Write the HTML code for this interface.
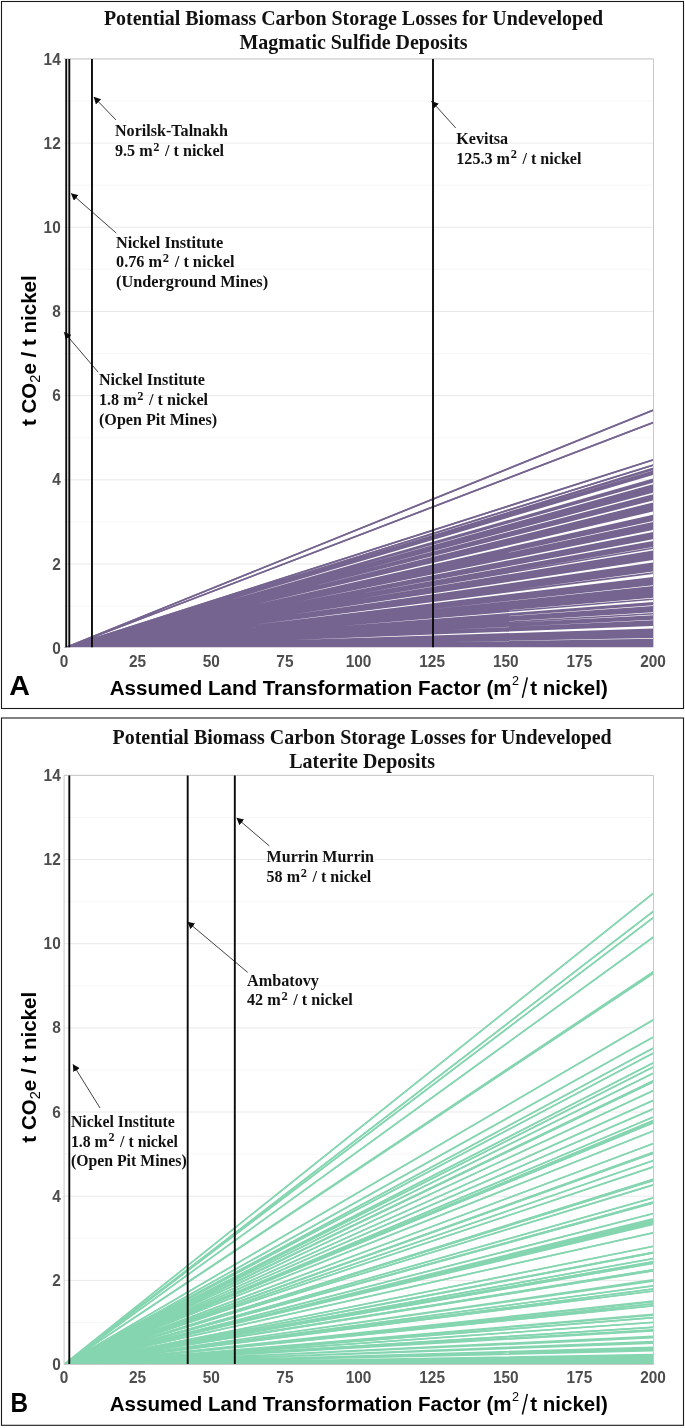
<!DOCTYPE html>
<html><head><meta charset="utf-8"><title>Biomass carbon storage losses</title>
<style>
html,body{margin:0;padding:0;background:#fff;}
svg{display:block;will-change:transform;}
text{font-family:"Liberation Sans",sans-serif;}
.tk{font-size:15.4px;font-weight:bold;fill:#4d4d4d;}
.ti{font-family:"Liberation Serif",serif;font-size:19.95px;font-weight:bold;fill:#111;}
.ax{font-size:20.55px;font-weight:bold;fill:#000;}
.axs{font-size:12.6px;font-weight:normal;fill:#000;}
.ax .sub{font-size:14.6px;font-weight:normal;}
.ax .sl{font-size:26px;font-weight:normal;}
.lt{font-size:27px;font-weight:bold;fill:#000;}
.an{font-family:"Liberation Serif",serif;font-size:16.05px;font-weight:bold;fill:#111;}
.an .s2{font-size:0.77em;}
</style></head><body>
<svg width="685" height="1428" viewBox="0 0 685 1428">
<defs><marker id="ah" viewBox="0 0 10 10" refX="9.6" refY="5" markerWidth="7" markerHeight="7.4" markerUnits="userSpaceOnUse" orient="auto" preserveAspectRatio="none"><path d="M0 0L10 5L0 10z" fill="#0a0a0a"/></marker></defs>
<rect width="685" height="1428" fill="#fff"/>
<rect x="1.5" y="1.5" width="682" height="707.0" fill="none" stroke="#1a1a1a" stroke-width="1.1"/>
<line x1="64.0" x2="653.0" y1="606.11" y2="606.11" stroke="#f3f3f3" stroke-width="0.7"/>
<line x1="64.0" x2="653.0" y1="564.01" y2="564.01" stroke="#e9e9e9" stroke-width="1"/>
<line x1="64.0" x2="653.0" y1="521.92" y2="521.92" stroke="#f3f3f3" stroke-width="0.7"/>
<line x1="64.0" x2="653.0" y1="479.83" y2="479.83" stroke="#e9e9e9" stroke-width="1"/>
<line x1="64.0" x2="653.0" y1="437.74" y2="437.74" stroke="#f3f3f3" stroke-width="0.7"/>
<line x1="64.0" x2="653.0" y1="395.64" y2="395.64" stroke="#e9e9e9" stroke-width="1"/>
<line x1="64.0" x2="653.0" y1="353.55" y2="353.55" stroke="#f3f3f3" stroke-width="0.7"/>
<line x1="64.0" x2="653.0" y1="311.46" y2="311.46" stroke="#e9e9e9" stroke-width="1"/>
<line x1="64.0" x2="653.0" y1="269.36" y2="269.36" stroke="#f3f3f3" stroke-width="0.7"/>
<line x1="64.0" x2="653.0" y1="227.27" y2="227.27" stroke="#e9e9e9" stroke-width="1"/>
<line x1="64.0" x2="653.0" y1="185.18" y2="185.18" stroke="#f3f3f3" stroke-width="0.7"/>
<line x1="64.0" x2="653.0" y1="143.09" y2="143.09" stroke="#e9e9e9" stroke-width="1"/>
<line x1="64.0" x2="653.0" y1="100.99" y2="100.99" stroke="#f3f3f3" stroke-width="0.7"/>
<line x1="64.0" x2="653.0" y1="58.90" y2="58.90" stroke="#e9e9e9" stroke-width="1"/>
<clipPath id="cA"><rect x="63.7" y="58.9" width="589.3" height="588.4"/></clipPath>
<path clip-path="url(#cA)" d="M64.0 648.2L657.0 408.58M64.0 648.2L657.0 421.07M64.0 648.2L657.0 458.62M64.0 648.2L657.0 463.96M64.0 648.2L657.0 467.10M64.0 648.2L657.0 467.66M64.0 648.2L657.0 468.21M64.0 648.2L657.0 470.12M64.0 648.2L657.0 470.87M64.0 648.2L657.0 471.61M64.0 648.2L657.0 472.35M64.0 648.2L657.0 473.09M64.0 648.2L657.0 478.18M64.0 648.2L657.0 478.82M64.0 648.2L657.0 479.46M64.0 648.2L657.0 480.10M64.0 648.2L657.0 480.75M64.0 648.2L657.0 483.82M64.0 648.2L657.0 484.60M64.0 648.2L657.0 485.39M64.0 648.2L657.0 486.18M64.0 648.2L657.0 486.97M64.0 648.2L657.0 487.76M64.0 648.2L657.0 488.55M64.0 648.2L657.0 489.34M64.0 648.2L657.0 490.13M64.0 648.2L657.0 490.91M64.0 648.2L657.0 493.98M64.0 648.2L657.0 494.68M64.0 648.2L657.0 495.38M64.0 648.2L657.0 496.08M64.0 648.2L657.0 496.78M64.0 648.2L657.0 497.47M64.0 648.2L657.0 498.17M64.0 648.2L657.0 498.87M64.0 648.2L657.0 502.24M64.0 648.2L657.0 503.01M64.0 648.2L657.0 503.78M64.0 648.2L657.0 504.55M64.0 648.2L657.0 505.32M64.0 648.2L657.0 506.09M64.0 648.2L657.0 506.86M64.0 648.2L657.0 507.63M64.0 648.2L657.0 508.40M64.0 648.2L657.0 509.17M64.0 648.2L657.0 509.94M64.0 648.2L657.0 514.52M64.0 648.2L657.0 515.24M64.0 648.2L657.0 515.95M64.0 648.2L657.0 516.66M64.0 648.2L657.0 517.37M64.0 648.2L657.0 518.08M64.0 648.2L657.0 518.79M64.0 648.2L657.0 519.51M64.0 648.2L657.0 521.77M64.0 648.2L657.0 522.50M64.0 648.2L657.0 523.24M64.0 648.2L657.0 523.97M64.0 648.2L657.0 524.70M64.0 648.2L657.0 525.44M64.0 648.2L657.0 526.17M64.0 648.2L657.0 526.90M64.0 648.2L657.0 527.63M64.0 648.2L657.0 528.37M64.0 648.2L657.0 532.04M64.0 648.2L657.0 532.77M64.0 648.2L657.0 533.49M64.0 648.2L657.0 534.21M64.0 648.2L657.0 534.94M64.0 648.2L657.0 535.66M64.0 648.2L657.0 536.38M64.0 648.2L657.0 537.11M64.0 648.2L657.0 537.83M64.0 648.2L657.0 540.90M64.0 648.2L657.0 541.66M64.0 648.2L657.0 542.43M64.0 648.2L657.0 543.19M64.0 648.2L657.0 543.96M64.0 648.2L657.0 544.72M64.0 648.2L657.0 545.48M64.0 648.2L657.0 547.55M64.0 648.2L657.0 547.60M64.0 648.2L657.0 550.67M64.0 648.2L657.0 551.40M64.0 648.2L657.0 552.14M64.0 648.2L657.0 552.88M64.0 648.2L657.0 553.61M64.0 648.2L657.0 554.35M64.0 648.2L657.0 555.09M64.0 648.2L657.0 555.82M64.0 648.2L657.0 556.56M64.0 648.2L657.0 557.30M64.0 648.2L657.0 558.03M64.0 648.2L657.0 558.77M64.0 648.2L657.0 562.75M64.0 648.2L657.0 563.51M64.0 648.2L657.0 564.27M64.0 648.2L657.0 565.03M64.0 648.2L657.0 565.79M64.0 648.2L657.0 566.55M64.0 648.2L657.0 567.31M64.0 648.2L657.0 568.07M64.0 648.2L657.0 568.83M64.0 648.2L657.0 569.59M64.0 648.2L657.0 570.35M64.0 648.2L657.0 572.51M64.0 648.2L657.0 572.77M64.0 648.2L657.0 577.25M64.0 648.2L657.0 578.00M64.0 648.2L657.0 578.76M64.0 648.2L657.0 579.51M64.0 648.2L657.0 580.27M64.0 648.2L657.0 581.02M64.0 648.2L657.0 581.78M64.0 648.2L657.0 582.53M64.0 648.2L657.0 583.29M64.0 648.2L657.0 584.04M64.0 648.2L657.0 586.31M64.0 648.2L657.0 587.10M64.0 648.2L657.0 587.90M64.0 648.2L657.0 588.69M64.0 648.2L657.0 589.48M64.0 648.2L657.0 590.28M64.0 648.2L657.0 591.07M64.0 648.2L657.0 591.86M64.0 648.2L657.0 592.66M64.0 648.2L657.0 593.45M64.0 648.2L657.0 594.25M64.0 648.2L657.0 595.04M64.0 648.2L657.0 595.83M64.0 648.2L657.0 596.63M64.0 648.2L657.0 598.79M64.0 648.2L657.0 599.04M64.0 648.2L657.0 602.42M64.0 648.2L657.0 603.05M64.0 648.2L657.0 603.69M64.0 648.2L657.0 604.33M64.0 648.2L657.0 606.39M64.0 648.2L657.0 607.10M64.0 648.2L657.0 607.82M64.0 648.2L657.0 608.53M64.0 648.2L657.0 609.24M64.0 648.2L657.0 609.95M64.0 648.2L657.0 610.66M64.0 648.2L657.0 611.38M64.0 648.2L657.0 613.44M64.0 648.2L657.0 613.59M64.0 648.2L657.0 615.66M64.0 648.2L657.0 616.44M64.0 648.2L657.0 617.22M64.0 648.2L657.0 618.00M64.0 648.2L657.0 618.78M64.0 648.2L657.0 620.84M64.0 648.2L657.0 621.54M64.0 648.2L657.0 622.23M64.0 648.2L657.0 622.93M64.0 648.2L657.0 623.63M64.0 648.2L657.0 624.32M64.0 648.2L657.0 625.02M64.0 648.2L657.0 629.10M64.0 648.2L657.0 629.84M64.0 648.2L657.0 630.59M64.0 648.2L657.0 631.33M64.0 648.2L657.0 632.08M64.0 648.2L657.0 632.83M64.0 648.2L657.0 633.57M64.0 648.2L657.0 634.32M64.0 648.2L657.0 635.06M64.0 648.2L657.0 635.81M64.0 648.2L657.0 636.56M64.0 648.2L657.0 637.30M64.0 648.2L657.0 639.47M64.0 648.2L657.0 640.24M64.0 648.2L657.0 641.01M64.0 648.2L657.0 641.78M64.0 648.2L657.0 642.55M64.0 648.2L657.0 643.32M64.0 648.2L657.0 644.09M64.0 648.2L657.0 644.86M64.0 648.2L657.0 645.63M64.0 648.2L657.0 646.40M64.0 648.2L657.0 647.17" stroke="#766490" stroke-width="1.45" fill="none"/>
<path clip-path="url(#cA)" d="M64.0 648.2L657.0 408.58M64.0 648.2L657.0 421.07M64.0 648.2L657.0 458.62M64.0 648.2L657.0 463.96" stroke="#766490" stroke-width="1.75" fill="none"/>
<path d="M64.0 58.9H653.5V647.3" fill="none" stroke="#c9c9c9" stroke-width="1"/>
<line x1="66.24" x2="66.24" y1="58.9" y2="647.3" stroke="#0a0a0a" stroke-width="1.9"/>
<line x1="69.30" x2="69.30" y1="58.9" y2="647.3" stroke="#0a0a0a" stroke-width="1.9"/>
<line x1="91.98" x2="91.98" y1="58.9" y2="647.3" stroke="#0a0a0a" stroke-width="1.9"/>
<line x1="433.01" x2="433.01" y1="58.9" y2="647.3" stroke="#0a0a0a" stroke-width="1.9"/>
<text class="tk" transform="translate(60.7,653.80) scale(1,1.07)" text-anchor="end">0</text>
<text class="tk" transform="translate(60.7,569.61) scale(1,1.07)" text-anchor="end">2</text>
<text class="tk" transform="translate(60.7,485.43) scale(1,1.07)" text-anchor="end">4</text>
<text class="tk" transform="translate(60.7,401.24) scale(1,1.07)" text-anchor="end">6</text>
<text class="tk" transform="translate(60.7,317.06) scale(1,1.07)" text-anchor="end">8</text>
<text class="tk" transform="translate(60.7,232.87) scale(1,1.07)" text-anchor="end">10</text>
<text class="tk" transform="translate(60.7,148.69) scale(1,1.07)" text-anchor="end">12</text>
<text class="tk" transform="translate(60.7,64.50) scale(1,1.07)" text-anchor="end">14</text>
<text class="tk" transform="translate(64.00,666.85) scale(1,1.07)" text-anchor="middle">0</text>
<text class="tk" transform="translate(137.62,666.85) scale(1,1.07)" text-anchor="middle">25</text>
<text class="tk" transform="translate(211.25,666.85) scale(1,1.07)" text-anchor="middle">50</text>
<text class="tk" transform="translate(284.88,666.85) scale(1,1.07)" text-anchor="middle">75</text>
<text class="tk" transform="translate(358.50,666.85) scale(1,1.07)" text-anchor="middle">100</text>
<text class="tk" transform="translate(432.12,666.85) scale(1,1.07)" text-anchor="middle">125</text>
<text class="tk" transform="translate(505.75,666.85) scale(1,1.07)" text-anchor="middle">150</text>
<text class="tk" transform="translate(579.38,666.85) scale(1,1.07)" text-anchor="middle">175</text>
<text class="tk" transform="translate(653.00,666.85) scale(1,1.07)" text-anchor="middle">200</text>
<text class="ti" x="353.5" y="24.8" text-anchor="middle">Potential Biomass Carbon Storage Losses for Undeveloped</text>
<text class="ti" x="353.5" y="48.9" text-anchor="middle">Magmatic Sulfide Deposits</text>
<text class="ax" x="511.6" y="694.5" text-anchor="end">Assumed Land Transformation Factor (m</text>
<text class="axs" x="511.9" y="684.6">2</text>
<line x1="522.4" y1="697.9" x2="527.3" y2="677.3" stroke="#000" stroke-width="1.5"/>
<text class="ax" x="530.2" y="694.5">t nickel)</text>
<text class="ax" transform="translate(36.4,350.7) rotate(-90)" text-anchor="middle">t CO<tspan class="sub" dy="3.4">2</tspan><tspan dy="-3.4">e / t nickel</tspan></text>
<text class="lt" transform="translate(9.3,695.3) scale(1.06,1.02)">A</text>
<line x1="116" y1="120" x2="93.9" y2="97.0" stroke="#111" stroke-width="0.8" marker-end="url(#ah)"/>
<text class="an" style="font-size:16.1px" x="115" y="136.0">Norilsk-Talnakh</text>
<text class="an" style="font-size:16.1px" x="115" y="155.8">9.5 m<tspan class="s2" dx="0.7" dy="-5.3">2</tspan><tspan dx="1.6" dy="5.3"> </tspan>/ t nickel</text>
<line x1="116.2" y1="233" x2="71.2" y2="193.5" stroke="#111" stroke-width="0.8" marker-end="url(#ah)"/>
<text class="an" style="font-size:16.3px" x="116" y="247.5">Nickel Institute</text>
<text class="an" style="font-size:16.3px" x="116" y="267.3">0.76 m<tspan class="s2" dx="0.7" dy="-5.3">2</tspan><tspan dx="1.6" dy="5.3"> </tspan>/ t nickel</text>
<text class="an" style="font-size:16.3px" x="116" y="287.1">(Underground Mines)</text>
<line x1="98.2" y1="372.2" x2="64.2" y2="332.3" stroke="#111" stroke-width="0.8" marker-end="url(#ah)"/>
<text class="an" style="font-size:16.1px" x="99" y="385.0">Nickel Institute</text>
<text class="an" style="font-size:16.1px" x="99" y="404.8">1.8 m<tspan class="s2" dx="0.7" dy="-5.3">2</tspan><tspan dx="1.6" dy="5.3"> </tspan>/ t nickel</text>
<text class="an" style="font-size:16.1px" x="99" y="424.6">(Open Pit Mines)</text>
<line x1="455.7" y1="127.9" x2="431.6" y2="101.2" stroke="#111" stroke-width="0.8" marker-end="url(#ah)"/>
<text class="an" style="font-size:16.1px" x="456.3" y="143.6">Kevitsa</text>
<text class="an" style="font-size:16.1px" x="456.3" y="163.7">125.3 m<tspan class="s2" dx="0.7" dy="-5.3">2</tspan><tspan dx="1.6" dy="5.3"> </tspan>/ t nickel</text>
<rect x="1.5" y="718" width="682" height="707.3" fill="none" stroke="#1a1a1a" stroke-width="1.1"/>
<line x1="64.0" x2="653.0" y1="1364.50" y2="1364.50" stroke="#e9e9e9" stroke-width="1"/>
<line x1="64.0" x2="653.0" y1="1322.42" y2="1322.42" stroke="#f3f3f3" stroke-width="0.7"/>
<line x1="64.0" x2="653.0" y1="1280.34" y2="1280.34" stroke="#e9e9e9" stroke-width="1"/>
<line x1="64.0" x2="653.0" y1="1238.26" y2="1238.26" stroke="#f3f3f3" stroke-width="0.7"/>
<line x1="64.0" x2="653.0" y1="1196.19" y2="1196.19" stroke="#e9e9e9" stroke-width="1"/>
<line x1="64.0" x2="653.0" y1="1154.11" y2="1154.11" stroke="#f3f3f3" stroke-width="0.7"/>
<line x1="64.0" x2="653.0" y1="1112.03" y2="1112.03" stroke="#e9e9e9" stroke-width="1"/>
<line x1="64.0" x2="653.0" y1="1069.95" y2="1069.95" stroke="#f3f3f3" stroke-width="0.7"/>
<line x1="64.0" x2="653.0" y1="1027.87" y2="1027.87" stroke="#e9e9e9" stroke-width="1"/>
<line x1="64.0" x2="653.0" y1="985.79" y2="985.79" stroke="#f3f3f3" stroke-width="0.7"/>
<line x1="64.0" x2="653.0" y1="943.71" y2="943.71" stroke="#e9e9e9" stroke-width="1"/>
<line x1="64.0" x2="653.0" y1="901.64" y2="901.64" stroke="#f3f3f3" stroke-width="0.7"/>
<line x1="64.0" x2="653.0" y1="859.56" y2="859.56" stroke="#e9e9e9" stroke-width="1"/>
<line x1="64.0" x2="653.0" y1="817.48" y2="817.48" stroke="#f3f3f3" stroke-width="0.7"/>
<line x1="64.0" x2="653.0" y1="775.40" y2="775.40" stroke="#e9e9e9" stroke-width="1"/>
<clipPath id="cB"><rect x="63.7" y="775.4" width="589.3" height="588.5000000000001"/></clipPath>
<path clip-path="url(#cB)" d="M64.0 1364.5L657.0 890.30M64.0 1364.5L657.0 908.52M64.0 1364.5L657.0 914.87M64.0 1364.5L657.0 934.50M64.0 1364.5L657.0 969.44M64.0 1364.5L657.0 970.95M64.0 1364.5L657.0 1017.76M64.0 1364.5L657.0 1034.98M64.0 1364.5L657.0 1046.05M64.0 1364.5L657.0 1051.09M64.0 1364.5L657.0 1060.95M64.0 1364.5L657.0 1065.08M64.0 1364.5L657.0 1071.42M64.0 1364.5L657.0 1079.07M64.0 1364.5L657.0 1080.18M64.0 1364.5L657.0 1088.84M64.0 1364.5L657.0 1098.71M64.0 1364.5L657.0 1107.26M64.0 1364.5L657.0 1115.52M64.0 1364.5L657.0 1119.04M64.0 1364.5L657.0 1120.05M64.0 1364.5L657.0 1121.26M64.0 1364.5L657.0 1129.51M64.0 1364.5L657.0 1142.20M64.0 1364.5L657.0 1150.96M64.0 1364.5L657.0 1151.97M64.0 1364.5L657.0 1159.32M64.0 1364.5L657.0 1165.66M64.0 1364.5L657.0 1178.14M64.0 1364.5L657.0 1179.35M64.0 1364.5L657.0 1183.78M64.0 1364.5L657.0 1196.77M64.0 1364.5L657.0 1201.10M64.0 1364.5L657.0 1202.00M64.0 1364.5L657.0 1212.58M64.0 1364.5L657.0 1231.91M64.0 1364.5L657.0 1245.60M64.0 1364.5L657.0 1251.64M64.0 1364.5L657.0 1252.24M64.0 1364.5L657.0 1257.88M64.0 1364.5L657.0 1261.10M64.0 1364.5L657.0 1262.71M64.0 1364.5L657.0 1269.16M64.0 1364.5L657.0 1270.26M64.0 1364.5L657.0 1285.37M64.0 1364.5L657.0 1288.49M64.0 1364.5L657.0 1290.60M64.0 1364.5L657.0 1303.49M64.0 1364.5L657.0 1305.50M64.0 1364.5L657.0 1317.38M64.0 1364.5L657.0 1322.11M64.0 1364.5L657.0 1327.05M64.0 1364.5L657.0 1217.71M64.0 1364.5L657.0 1218.44M64.0 1364.5L657.0 1219.17M64.0 1364.5L657.0 1219.90M64.0 1364.5L657.0 1220.63M64.0 1364.5L657.0 1221.36M64.0 1364.5L657.0 1222.09M64.0 1364.5L657.0 1222.82M64.0 1364.5L657.0 1223.55M64.0 1364.5L657.0 1279.22M64.0 1364.5L657.0 1279.93M64.0 1364.5L657.0 1280.63M64.0 1364.5L657.0 1300.47M64.0 1364.5L657.0 1301.02M64.0 1364.5L657.0 1301.58M64.0 1364.5L657.0 1313.76M64.0 1364.5L657.0 1314.36M64.0 1364.5L657.0 1314.97M64.0 1364.5L657.0 1329.36M64.0 1364.5L657.0 1330.07M64.0 1364.5L657.0 1330.77M64.0 1364.5L657.0 1336.01M64.0 1364.5L657.0 1336.58M64.0 1364.5L657.0 1337.15M64.0 1364.5L657.0 1337.72M64.0 1364.5L657.0 1341.34M64.0 1364.5L657.0 1341.95M64.0 1364.5L657.0 1342.55M64.0 1364.5L657.0 1343.16M64.0 1364.5L657.0 1347.08M64.0 1364.5L657.0 1347.83M64.0 1364.5L657.0 1348.57M64.0 1364.5L657.0 1349.32M64.0 1364.5L657.0 1350.06M64.0 1364.5L657.0 1350.81M64.0 1364.5L657.0 1354.43M64.0 1364.5L657.0 1355.19M64.0 1364.5L657.0 1355.94M64.0 1364.5L657.0 1356.70M64.0 1364.5L657.0 1357.45M64.0 1364.5L657.0 1358.21M64.0 1364.5L657.0 1358.96M64.0 1364.5L657.0 1359.72M64.0 1364.5L657.0 1360.47M64.0 1364.5L657.0 1361.23M64.0 1364.5L657.0 1361.98M64.0 1364.5L657.0 1362.74M64.0 1364.5L657.0 1363.49" stroke="#85D6B0" stroke-width="1.4" fill="none"/>
<path clip-path="url(#cB)" d="M64.0 1364.5L657.0 890.30M64.0 1364.5L657.0 908.52M64.0 1364.5L657.0 914.87M64.0 1364.5L657.0 934.50M64.0 1364.5L657.0 969.44M64.0 1364.5L657.0 970.95M64.0 1364.5L657.0 1017.76M64.0 1364.5L657.0 1034.98M64.0 1364.5L657.0 1046.05M64.0 1364.5L657.0 1051.09M64.0 1364.5L657.0 1060.95M64.0 1364.5L657.0 1065.08M64.0 1364.5L657.0 1071.42M64.0 1364.5L657.0 1079.07M64.0 1364.5L657.0 1080.18M64.0 1364.5L657.0 1088.84M64.0 1364.5L657.0 1098.71M64.0 1364.5L657.0 1107.26M64.0 1364.5L657.0 1115.52M64.0 1364.5L657.0 1119.04M64.0 1364.5L657.0 1120.05M64.0 1364.5L657.0 1121.26M64.0 1364.5L657.0 1129.51M64.0 1364.5L657.0 1142.20M64.0 1364.5L657.0 1150.96M64.0 1364.5L657.0 1151.97M64.0 1364.5L657.0 1159.32M64.0 1364.5L657.0 1165.66M64.0 1364.5L657.0 1178.14M64.0 1364.5L657.0 1179.35M64.0 1364.5L657.0 1183.78M64.0 1364.5L657.0 1196.77M64.0 1364.5L657.0 1201.10M64.0 1364.5L657.0 1202.00M64.0 1364.5L657.0 1212.58M64.0 1364.5L657.0 1231.91M64.0 1364.5L657.0 1245.60M64.0 1364.5L657.0 1251.64M64.0 1364.5L657.0 1252.24M64.0 1364.5L657.0 1257.88M64.0 1364.5L657.0 1261.10M64.0 1364.5L657.0 1262.71M64.0 1364.5L657.0 1269.16M64.0 1364.5L657.0 1270.26M64.0 1364.5L657.0 1285.37M64.0 1364.5L657.0 1288.49M64.0 1364.5L657.0 1290.60M64.0 1364.5L657.0 1303.49M64.0 1364.5L657.0 1305.50M64.0 1364.5L657.0 1317.38M64.0 1364.5L657.0 1322.11M64.0 1364.5L657.0 1327.05" stroke="#85D6B0" stroke-width="1.7" fill="none"/>
<path d="M64.1 1364.5V775.4H653.5V1364.5z" fill="none" stroke="#c9c9c9" stroke-width="1"/>
<line x1="69.30" x2="69.30" y1="775.4" y2="1363.9" stroke="#0a0a0a" stroke-width="1.9"/>
<line x1="187.69" x2="187.69" y1="775.4" y2="1363.9" stroke="#0a0a0a" stroke-width="1.9"/>
<line x1="234.81" x2="234.81" y1="775.4" y2="1363.9" stroke="#0a0a0a" stroke-width="1.9"/>
<text class="tk" transform="translate(60.7,1370.10) scale(1,1.07)" text-anchor="end">0</text>
<text class="tk" transform="translate(60.7,1285.94) scale(1,1.07)" text-anchor="end">2</text>
<text class="tk" transform="translate(60.7,1201.79) scale(1,1.07)" text-anchor="end">4</text>
<text class="tk" transform="translate(60.7,1117.63) scale(1,1.07)" text-anchor="end">6</text>
<text class="tk" transform="translate(60.7,1033.47) scale(1,1.07)" text-anchor="end">8</text>
<text class="tk" transform="translate(60.7,949.31) scale(1,1.07)" text-anchor="end">10</text>
<text class="tk" transform="translate(60.7,865.16) scale(1,1.07)" text-anchor="end">12</text>
<text class="tk" transform="translate(60.7,781.00) scale(1,1.07)" text-anchor="end">14</text>
<text class="tk" transform="translate(64.00,1383.45) scale(1,1.07)" text-anchor="middle">0</text>
<text class="tk" transform="translate(137.62,1383.45) scale(1,1.07)" text-anchor="middle">25</text>
<text class="tk" transform="translate(211.25,1383.45) scale(1,1.07)" text-anchor="middle">50</text>
<text class="tk" transform="translate(284.88,1383.45) scale(1,1.07)" text-anchor="middle">75</text>
<text class="tk" transform="translate(358.50,1383.45) scale(1,1.07)" text-anchor="middle">100</text>
<text class="tk" transform="translate(432.12,1383.45) scale(1,1.07)" text-anchor="middle">125</text>
<text class="tk" transform="translate(505.75,1383.45) scale(1,1.07)" text-anchor="middle">150</text>
<text class="tk" transform="translate(579.38,1383.45) scale(1,1.07)" text-anchor="middle">175</text>
<text class="tk" transform="translate(653.00,1383.45) scale(1,1.07)" text-anchor="middle">200</text>
<text class="ti" x="362.1" y="744.0" text-anchor="middle">Potential Biomass Carbon Storage Losses for Undeveloped</text>
<text class="ti" x="362.1" y="767.8" text-anchor="middle">Laterite Deposits</text>
<text class="ax" x="511.6" y="1411.1000000000001" text-anchor="end">Assumed Land Transformation Factor (m</text>
<text class="axs" x="511.9" y="1401.2">2</text>
<line x1="522.4" y1="1414.5000000000002" x2="527.3" y2="1393.9" stroke="#000" stroke-width="1.5"/>
<text class="ax" x="530.2" y="1411.1000000000001">t nickel)</text>
<text class="ax" transform="translate(36.4,1067.25) rotate(-90)" text-anchor="middle">t CO<tspan class="sub" dy="3.4">2</tspan><tspan dy="-3.4">e / t nickel</tspan></text>
<text class="lt" transform="translate(10.6,1411.9) scale(0.9,1.02)">B</text>
<line x1="269.4" y1="846" x2="236.7" y2="818" stroke="#111" stroke-width="0.8" marker-end="url(#ah)"/>
<text class="an" style="font-size:16.05px" x="266.6" y="862.4">Murrin Murrin</text>
<text class="an" style="font-size:16.05px" x="266.6" y="882.1">58 m<tspan class="s2" dx="0.7" dy="-5.3">2</tspan><tspan dx="1.6" dy="5.3"> </tspan>/ t nickel</text>
<line x1="247.7" y1="972.4" x2="187.7" y2="922" stroke="#111" stroke-width="0.8" marker-end="url(#ah)"/>
<text class="an" style="font-size:16.2px" x="247" y="985.7">Ambatovy</text>
<text class="an" style="font-size:16.2px" x="247" y="1005.4">42 m<tspan class="s2" dx="0.7" dy="-5.3">2</tspan><tspan dx="1.6" dy="5.3"> </tspan>/ t nickel</text>
<line x1="100" y1="1108" x2="73" y2="1064.5" stroke="#111" stroke-width="0.8" marker-end="url(#ah)"/>
<text class="an" style="font-size:15.8px" x="70.9" y="1127.3">Nickel Institute</text>
<text class="an" style="font-size:15.8px" x="70.9" y="1146.6">1.8 m<tspan class="s2" dx="0.7" dy="-5.3">2</tspan><tspan dx="1.6" dy="5.3"> </tspan>/ t nickel</text>
<text class="an" style="font-size:15.8px" x="70.9" y="1165.9">(Open Pit Mines)</text>
</svg>
</body></html>
